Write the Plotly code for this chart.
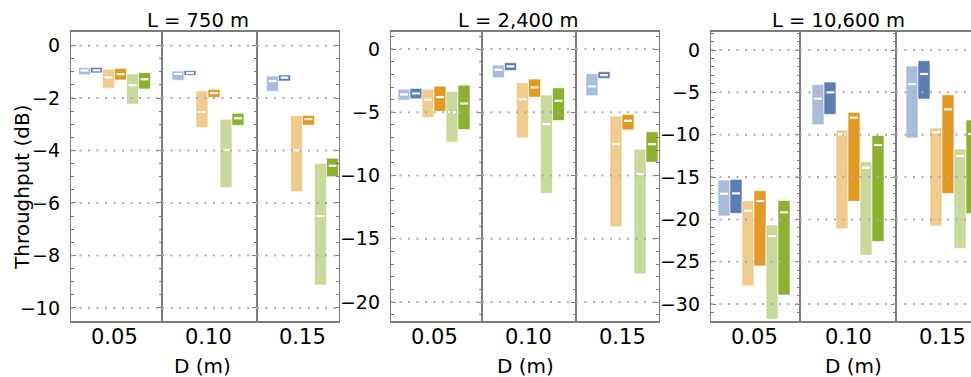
import plotly.graph_objects as go

# ---------------- data ----------------
L_labels = ["L = 750 m", "L = 2,400 m", "L = 10,600 m"]
D_labels = ["0.05", "0.10", "0.15"]
series_names = ["A (light)", "A", "B (light)", "B", "C (light)", "C"]
series_colors = ["#A9BCDB", "#5A7EB4", "#F0CB8E", "#E29A24", "#C8D99B", "#8DB031"]

# each: [D index][series index]
top_750 = [[-0.84, -0.83, -0.90, -0.87, -1.08, -1.03],
           [-0.97, -0.95, -1.73, -1.67, -2.81, -2.58],
           [-1.16, -1.12, -2.66, -2.66, -4.49, -4.29]]
bot_750 = [[-1.11, -1.04, -1.62, -1.31, -2.23, -1.65],
           [-1.32, -1.13, -3.12, -1.97, -5.41, -3.04],
           [-1.74, -1.35, -5.57, -3.03, -9.13, -5.00]]
med_750 = [[-0.95, -0.94, -1.21, -1.09, -1.51, -1.28],
           [-1.08, -1.04, -2.53, -1.81, -3.98, -2.77],
           [-1.35, -1.22, -3.99, -2.80, -6.50, -4.58]]

top_2400 = [[-3.17, -3.11, -3.19, -2.93, -3.35, -2.85],
            [-1.27, -1.08, -2.66, -2.37, -3.64, -3.06],
            [-1.95, -1.79, -5.30, -5.17, -7.92, -6.54]]
bot_2400 = [[-4.04, -3.93, -5.41, -4.91, -7.36, -6.36],
            [-2.27, -1.69, -7.02, -3.80, -11.40, -5.65],
            [-3.69, -2.32, -14.04, -6.39, -17.76, -8.94]]
med_2400 = [[-3.59, -3.51, -4.01, -3.80, -4.99, -4.30],
            [-1.64, -1.37, -3.96, -3.03, -5.94, -4.09],
            [-2.96, -2.06, -7.52, -5.67, -9.89, -7.52]]

top_10600 = [[-15.35, -15.28, -17.80, -16.61, -20.67, -17.76],
             [-4.09, -3.78, -9.45, -7.36, -13.19, -10.08],
             [-1.89, -1.26, -9.21, -5.28, -11.69, -8.27]]
bot_10600 = [[-19.60, -19.29, -27.83, -25.50, -31.77, -28.94],
             [-8.82, -7.60, -21.10, -17.87, -24.20, -22.60],
             [-10.39, -5.79, -20.79, -16.93, -23.43, -19.29]]
med_10600 = [[-16.97, -16.93, -18.98, -17.83, -21.97, -19.17],
             [-5.75, -5.00, -9.96, -7.99, -13.90, -11.22],
             [-4.02, -2.83, -9.69, -7.00, -12.52, -9.92]]

panels = [(top_750, bot_750, med_750),
          (top_2400, bot_2400, med_2400),
          (top_10600, bot_10600, med_10600)]

# ---------------- layout geometry ----------------
W, H = 971, 377
U = 94.0                      # px per x unit
PITCH = 0.1277                # bar pitch in x units
cols_px = [[(71, 162, 114.5), (162, 257, 208), (257, 339, 302.5)],
           [(391, 482, 434), (482, 576, 528.5), (576, 659, 622)],
           [(711, 800, 754), (800, 896, 848), (896, 971, 942)]]
y_ranges = [(-10.5, 0.52), (-21.5, 1.35), (-32.0, 2.13)]
y_dtick = [2, 5, 5]
y_minor = [0.5, 1, 1]
PT, PB = 32, 321
ydom = [1 - PB / H, 1 - PT / H]

FONT = "DejaVu Sans"
FRAME = "#7c7c7c"
GRID = "#ababab"

fig = go.Figure()
layout = dict(width=W, height=H, margin=dict(l=0, r=0, t=0, b=0),
              paper_bgcolor="white", plot_bgcolor="white",
              showlegend=False, barmode="overlay",
              font=dict(family=FONT, size=19, color="black"))
shapes = []
annotations = []

n = 0
for p, (tops, bots, meds) in enumerate(panels):
    y0, y1 = y_ranges[p]
    for c in range(3):
        n += 1
        xa = "x" if n == 1 else f"x{n}"
        ya = "y" if n == 1 else f"y{n}"
        L, R, C = cols_px[p][c]
        last = (p == 2 and c == 2)
        xr = [(L - C) / U, (R - C) / U]
        layout["xaxis" if n == 1 else f"xaxis{n}"] = dict(
            domain=[L / W, R / W], range=xr, anchor=ya,
            showline=True, linecolor=FRAME, linewidth=1.6, mirror=True,
            ticks="", showticklabels=False,
            showgrid=False, zeroline=False, fixedrange=True)
        yax = dict(
            domain=ydom, range=[y0, y1], anchor=xa,
            showline=True, linecolor=FRAME, linewidth=1.3,
            dtick=y_dtick[p], tick0=0,
            tickfont=dict(size=19, family=FONT), ticklabelstandoff=6,
            showgrid=False, zeroline=False, fixedrange=True)
        tick_style = dict(ticks="inside", ticklen=5, tickwidth=1.3, tickcolor=FRAME,
                          minor=dict(ticks="inside", ticklen=3, tickwidth=1.1,
                                     tickcolor=FRAME, dtick=y_minor[p], tick0=0,
                                     showgrid=False))
        if c == 0:
            yax.update(side="left", mirror="allticks", showticklabels=True, **tick_style)
        elif not last:
            yax.update(side="right", mirror=True, showticklabels=False, **tick_style)
        else:
            yax.update(side="left", mirror=False, ticks="", showticklabels=False)
        layout["yaxis" if n == 1 else f"yaxis{n}"] = yax
        # dotted gridlines drawn above bars
        v = 0.0
        while v >= y0:
            shapes.append(dict(type="line", xref=f"{xa} domain", yref=ya,
                               x0=0, x1=1, y0=v, y1=v, layer="above",
                               line=dict(color=GRID, width=2, dash="2px,6.5px")))
            v -= y_dtick[p]
        xs = [(k - 2.5) * PITCH for k in range(6)]
        for k in range(6):
            fig.add_trace(go.Bar(
                x=[xs[k]], y=[tops[c][k] - bots[c][k]], base=[bots[c][k]],
                width=PITCH, xaxis=xa, yaxis=ya, name=series_names[k],
                marker=dict(color=series_colors[k],
                            line=dict(color="rgba(255,255,255,0.6)", width=1))))
        fig.add_trace(go.Scatter(
            x=xs, y=meds[c], mode="markers", xaxis=xa, yaxis=ya,
            marker=dict(symbol="line-ew", size=5.6,
                        line=dict(color="white", width=2.2)),
            hoverinfo="skip"))
        # category label under the column
        annotations.append(dict(text=D_labels[c], xref=xa, yref="paper",
                                x=0, y=1 - 337 / H, xanchor="center",
                                yanchor="middle", showarrow=False,
                                font=dict(size=21, family=FONT)))

titles_px = [(197.5, 20.5), (518, 20.5), (838, 20.5)]
dlab_px = [(202, 365.5), (525, 365.5), (853, 365.5)]
for p in range(3):
    annotations.append(dict(text=L_labels[p], xref="paper", yref="paper",
                            x=titles_px[p][0] / W, y=1 - titles_px[p][1] / H,
                            xanchor="center", yanchor="middle", showarrow=False,
                            font=dict(size=19.5, family=FONT)))
    annotations.append(dict(text="D (m)", xref="paper", yref="paper",
                            x=dlab_px[p][0] / W, y=1 - dlab_px[p][1] / H,
                            xanchor="center", yanchor="middle", showarrow=False,
                            font=dict(size=20, family=FONT)))
annotations.append(dict(text="Throughput (dB)", xref="paper", yref="paper",
                        x=22 / W, y=1 - 187 / H, textangle=-90,
                        xanchor="center", yanchor="middle", showarrow=False,
                        font=dict(size=20, family=FONT)))

layout["shapes"] = shapes
layout["annotations"] = annotations
fig.update_layout(**layout)
fig.write_html("out.html")
